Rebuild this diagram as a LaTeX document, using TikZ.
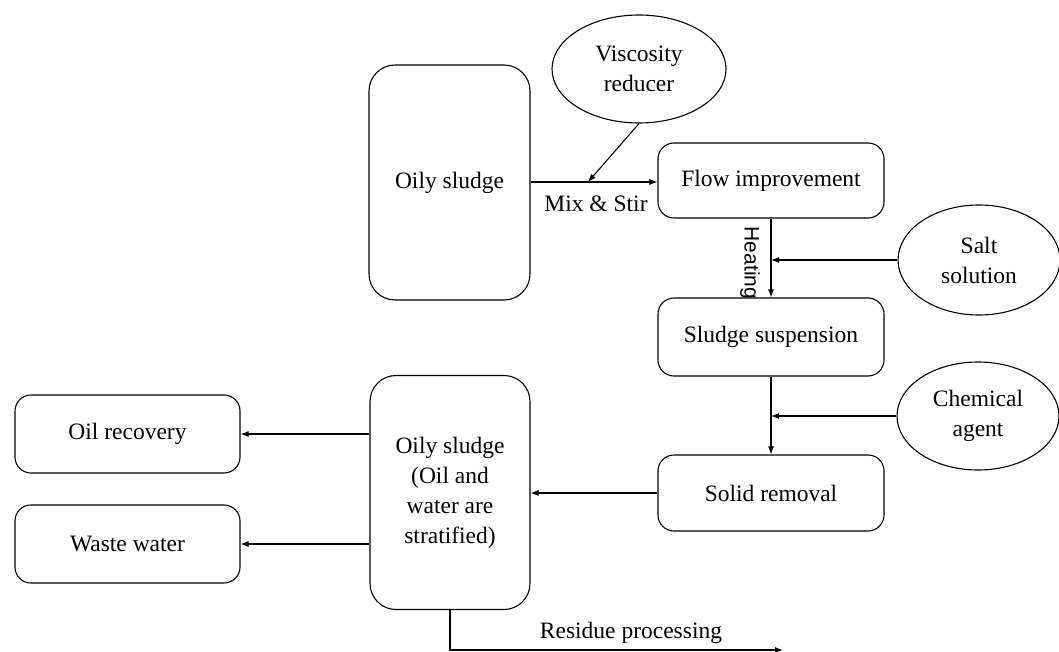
\documentclass[tikz,border=0pt]{standalone}
\usepackage{fontspec}
\setmainfont{Liberation Serif}
\newfontfamily\headsans{Liberation Sans}
\usetikzlibrary{shapes.geometric,arrows.meta}
\begin{document}
\begin{tikzpicture}[x=1pt,y=-1pt,
  font=\fontsize{23.5}{30}\selectfont,
  every path/.style={line width=1.1pt},
  box/.style={draw,rounded corners=16pt,inner sep=0pt,align=center,line width=1.1pt},
  tallbox/.style={box,rounded corners=26pt},
  oval/.style={draw,ellipse,inner sep=0pt,align=center,line width=1.1pt},
  arr/.style={-{Latex[length=8pt,width=6pt]},line width=1.1pt},
  lbl/.style={inner sep=0pt}]
\useasboundingbox (0,0) rectangle (1059,652);
% nodes
\node[tallbox,minimum width=161pt,minimum height=235pt] (os1) at (449.5,182.5) {Oily sludge};
\node[oval,minimum width=174pt,minimum height=108pt] (vr) at (639,69) {Viscosity\\reducer};
\node[box,minimum width=226pt,minimum height=75pt] (fi) at (771,180.5) {Flow improvement};
\node[oval,minimum width=162pt,minimum height=110pt] (salt) at (979,260) {Salt\\solution};
\node[box,minimum width=226pt,minimum height=78pt] (ss) at (771,337) {Sludge suspension};
\node[oval,minimum width=162pt,minimum height=108pt] (chem) at (978,416) {Chemical\\agent};
\node[box,minimum width=226pt,minimum height=76pt] (sr) at (771,493) {Solid removal};
\node[tallbox,minimum width=160pt,minimum height=234pt] (os2) at (450,492.5) {Oily sludge\\(Oil and\\water are\\stratified)};
\node[box,minimum width=225pt,minimum height=78pt] (oil) at (127.5,434) {Oil recovery};
\node[box,minimum width=225pt,minimum height=78pt] (ww) at (127.5,544) {Waste water};
% labels
\node[lbl] (mixlbl) at (596,204) {Mix \& Stir};
\node[lbl,rotate=-90,font=\headsans\fontsize{21}{24}\selectfont] (heatlbl) at (750,263) {Heating};
\node[lbl] (reslbl) at (631,633) {Residue processing};
% coordinates
\coordinate (mix) at (588,182);
\coordinate (res) at (783,650);
% connectors
\draw[arr] (os1.east |- mix) -- (mix -| fi.west);
\draw[arr] (vr.south) -- (mix);
\draw[arr] (fi.south) -- (ss.north);
\draw[arr] (salt.west) -- (salt.west -| fi.south);
\draw[arr] (ss.south) -- (sr.north);
\draw[arr] (chem.west) -- (chem.west -| ss.south);
\draw[arr] (sr.west) -- (sr.west -| os2.east);
\draw[arr] (os2.west |- oil.east) -- (oil.east);
\draw[arr] (os2.west |- ww.east) -- (ww.east);
\draw[arr] (os2.south) |- (res);
\end{tikzpicture}
\end{document}
